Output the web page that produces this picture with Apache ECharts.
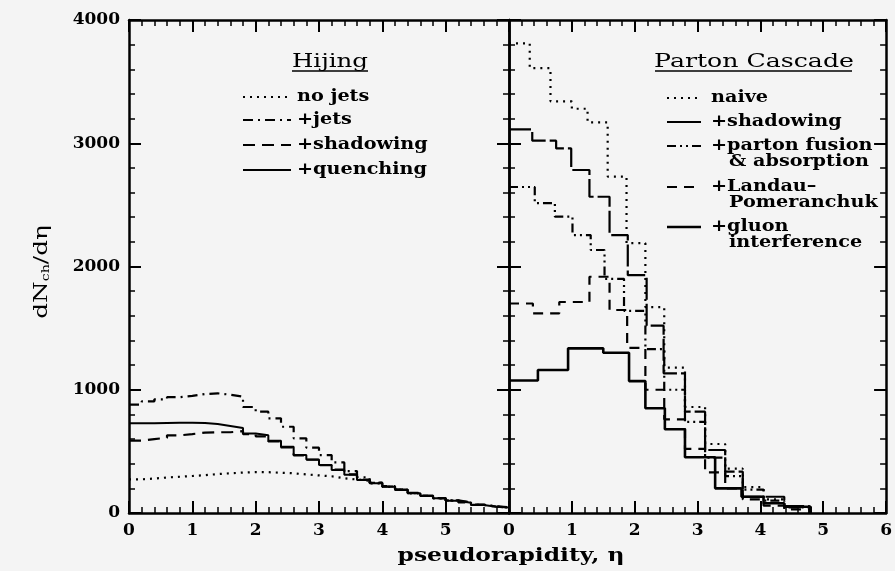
<!DOCTYPE html>
<html><head><meta charset="utf-8">
<script src="https://cdn.jsdelivr.net/npm/echarts@6/dist/echarts.min.js"></script>
<style>html,body{margin:0;padding:0;background:#f4f4f4;}#c{width:895px;height:571px;}</style>
</head><body><div id="c"></div>
<script>
// ---- Data ----
// Left panel (Hijing): bin edges in eta and values (dN/deta)
const hijingEdges = [0,0.2,0.4,0.6,0.8,1.0,1.2,1.4,1.6,1.8,2.0,2.2,2.4,2.6,2.8,3.0,3.2,3.4,3.6,3.8,4.0,4.2,4.4,4.6,4.8,5.0,5.2,5.4,5.6,5.8,6.0];
const hijingNoJets =    [273,280,288,294,300,307,316,322,328,332,331,327,322,313,305,298,282,272,262,240,212,187,160,138,119,100,84,66,52,45];
const hijingJets =      [880,905,922,940,950,965,971,960,944,860,822,768,700,606,530,470,410,340,290,245,215,190,162,140,120,102,85,68,54,46];
const hijingShadowing = [587,600,610,630,640,652,655,655,665,640,622,580,532,468,432,388,352,314,272,246,218,192,164,141,121,102,86,67,52,45];
const hijingQuenching = [728,728,730,732,732,730,722,706,690,645,630,587,538,471,435,389,349,310,268,241,213,187,160,138,119,100,84,65,51,45];

// Right panel (Parton Cascade): histograms, edges + values
const naiveEdges = [0,0.33,0.66,1.0,1.25,1.57,1.87,2.17,2.47,2.8,3.12,3.44,3.72,4.05,4.38,4.78];
const naiveVals  = [3810,3610,3340,3280,3170,2730,2190,1670,1180,860,560,360,210,110,50];
const shadowEdges = [0,0.37,0.75,0.99,1.28,1.6,1.89,2.19,2.46,2.8,3.12,3.44,3.72,4.38,4.78];
const shadowVals  = [3113,3021,2958,2783,2566,2255,1930,1520,1133,822,511,335,132,55];
const fusionEdges = [0,0.41,0.73,1.01,1.3,1.52,1.83,2.17,2.47,2.8,3.12,3.44,3.72,4.05,4.38,4.78];
const fusionVals  = [2645,2515,2404,2255,2134,1900,1640,1330,1000,740,450,300,190,100,45];
const landauEdges = [0,0.38,0.8,1.28,1.6,1.88,2.17,2.47,2.8,3.12,3.44,3.72,4.05,4.38,4.78];
const landauVals  = [1700,1620,1712,1917,1647,1340,1000,760,520,330,200,110,60,30];
const gluonEdges = [0,0.46,0.94,1.5,1.91,2.17,2.48,2.8,3.28,3.7,4.05,4.38,4.8];
const gluonVals  = [1075,1160,1336,1300,1070,850,679,452,200,132,79,51];

const xTicks = [0,1,2,3,4,5,6];
const yTicks = [0,1000,2000,3000,4000];

// ---- Build ----
const FONT = 'DejaVu Serif';
const BLACK = '#000';
const LEG_FONT = 'bold 16px "DejaVu Serif"';
const dotted = [2,5];

function hist(edges, vals, dropToZero) {
  const d = vals.map((v,i)=>[edges[i], v]);
  d.push([edges[edges.length-1], vals[vals.length-1]]);
  if (dropToZero) d.push([edges[edges.length-1], 0]);
  return d;
}
function xAx(gi, pos, labels) {
  return {
    type:'value', gridIndex:gi, position:pos, min:xTicks[0], max:xTicks[xTicks.length-1], interval:1,
    axisLine:{show:true, onZero:false, lineStyle:{color:BLACK, width:2.5}},
    axisTick:{show:true, inside:true, length:12, lineStyle:{color:BLACK, width:2}},
    minorTick:{show:true, splitNumber:5, length:6, lineStyle:{color:BLACK, width:1.5}},
    splitLine:{show:false}, minorSplitLine:{show:false},
    axisLabel:{show:labels, color:BLACK, fontFamily:FONT, fontWeight:'bold', fontSize:17, margin:9,
      formatter:(v)=> (gi===0 && v===6) ? '' : String(v)}
  };
}
function yAx(gi, pos, labels) {
  return {
    type:'value', gridIndex:gi, position:pos, min:yTicks[0], max:yTicks[yTicks.length-1], interval:1000,
    axisLine:{show:true, onZero:false, lineStyle:{color:BLACK, width:2.5}},
    axisTick:{show:true, inside:true, length:12, lineStyle:{color:BLACK, width:2}},
    minorTick:{show:true, splitNumber:5, length:6, lineStyle:{color:BLACK, width:1.5}},
    splitLine:{show:false}, minorSplitLine:{show:false},
    axisLabel:{show:labels, color:BLACK, fontFamily:FONT, fontWeight:'bold', fontSize:17, margin:9,
      formatter:(v)=>String(v)}
  };
}
function line(name, data, xi, yi, dash, width, step) {
  return {
    name, type:'line', xAxisIndex:xi, yAxisIndex:yi, data, step: step,
    showSymbol:false, symbol:'none', silent:true, animation:false,
    lineStyle:{color:BLACK, width:width, type:dash}, z:5
  };
}
function legendRow(x1, x2, y, dash, width, textX, lines) {
  const els = [{type:'line', shape:{x1:x1, y1:y, x2:x2, y2:y}, style:{stroke:BLACK, lineWidth:width, lineDash:dash}}];
  lines.forEach((t,i)=>{
    els.push({type:'text', x: textX + (i>0 ? 18 : 0), y: y + i*16, scaleX:1.2,
      style:{text:t, fill:BLACK, font:LEG_FONT, textVerticalAlign:'middle'}});
  });
  return els;
}
function buildGraphics() {
  let g = [];
  g.push({type:'text', x:330, y:62, scaleX:1.36, style:{text:'Hijing', fill:BLACK, font:'18px "DejaVu Serif"', textAlign:'center', textVerticalAlign:'middle'}});
  g.push({type:'line', shape:{x1:292, y1:71, x2:368, y2:71}, style:{stroke:BLACK, lineWidth:1.5}});
  g.push({type:'text', x:754, y:62, scaleX:1.4, style:{text:'Parton Cascade', fill:BLACK, font:'18px "DejaVu Serif"', textAlign:'center', textVerticalAlign:'middle'}});
  g.push({type:'line', shape:{x1:655, y1:71, x2:852, y2:71}, style:{stroke:BLACK, lineWidth:1.5}});
  g = g.concat(legendRow(243, 291, 97, [2,5], 2.2, 297, ['no jets']));
  g = g.concat(legendRow(243, 291, 120, [10,5,2,5], 2.2, 297, ['+jets']));
  g = g.concat(legendRow(243, 291, 145, [12,7], 2.2, 297, ['+shadowing']));
  g = g.concat(legendRow(243, 291, 170, null, 2, 297, ['+quenching']));
  g = g.concat(legendRow(667, 701, 98, [2,5], 2.2, 711, ['naive']));
  g = g.concat(legendRow(667, 701, 122, null, 2.2, 711, ['+shadowing']));
  g = g.concat(legendRow(667, 701, 146, [9,4,2,4,2,4], 2.2, 711, ['+parton fusion', '& absorption']));
  g = g.concat(legendRow(667, 701, 187, [10,7], 2.2, 711, ['+Landau\u2013', 'Pomeranchuk']));
  g = g.concat(legendRow(667, 701, 227, null, 2.6, 711, ['+gluon', 'interference']));
  g.push({type:'text', x:511, y:556, scaleX:1.3, style:{text:'pseudorapidity, \u03b7', fill:BLACK, font:'bold 18px "DejaVu Serif"', textAlign:'center', textVerticalAlign:'middle'}});
  g.push({type:'text', x:42, y:272, rotation:Math.PI/2, scaleX:1.3,
    style:{text:'{a|dN}{s|ch}{a|/d\u03b7}', fill:BLACK, textAlign:'center', textVerticalAlign:'middle',
      rich:{ a:{fontFamily:FONT, fontSize:19, fill:BLACK, color:BLACK}, s:{fontFamily:FONT, fontSize:11, fill:BLACK, color:BLACK, padding:[8,0,0,0]} } }});
  return g;
}

const chart = echarts.init(document.getElementById('c'), null, {renderer:'canvas'});
const option = {
  backgroundColor:'#f4f4f4',
  animation:false,
  grid: [
    {left:129, top:20, width:380, height:493},
    {left:509, top:20, width:380, height:493}
  ],
  xAxis:[ xAx(0,'bottom',true), xAx(0,'top',false), xAx(1,'bottom',true), xAx(1,'top',false) ],
  yAxis:[ yAx(0,'left',true), yAx(0,'right',false), yAx(1,'left',false), yAx(1,'right',false) ],
  series:[
    line('no jets', hist(hijingEdges, hijingNoJets), 0, 0, dotted, 2.2, 'end'),
    line('+jets', hist(hijingEdges, hijingJets), 0, 0, [10,5,2,5], 2.2, 'end'),
    line('+shadowing', hist(hijingEdges, hijingShadowing), 0, 0, [12,7], 2.2, 'end'),
    line('+quenching', hist(hijingEdges, hijingQuenching), 0, 0, 'solid', 2, 'end'),
    line('naive', hist(naiveEdges, naiveVals, true), 2, 2, dotted, 2.2, 'end'),
    line('+shadowing', hist(shadowEdges, shadowVals, true), 2, 2, [22,4], 2.2, 'end'),
    line('+parton fusion & absorption', hist(fusionEdges, fusionVals, true), 2, 2, [9,4,2,4,2,4], 2.2, 'end'),
    line('+Landau-Pomeranchuk', hist(landauEdges, landauVals, true), 2, 2, [10,7], 2.2, 'end'),
    line('+gluon interference', hist(gluonEdges, gluonVals, true), 2, 2, 'solid', 2.6, 'end')
  ],
  graphic: buildGraphics()
};
chart.setOption(option);
</script></body></html>
